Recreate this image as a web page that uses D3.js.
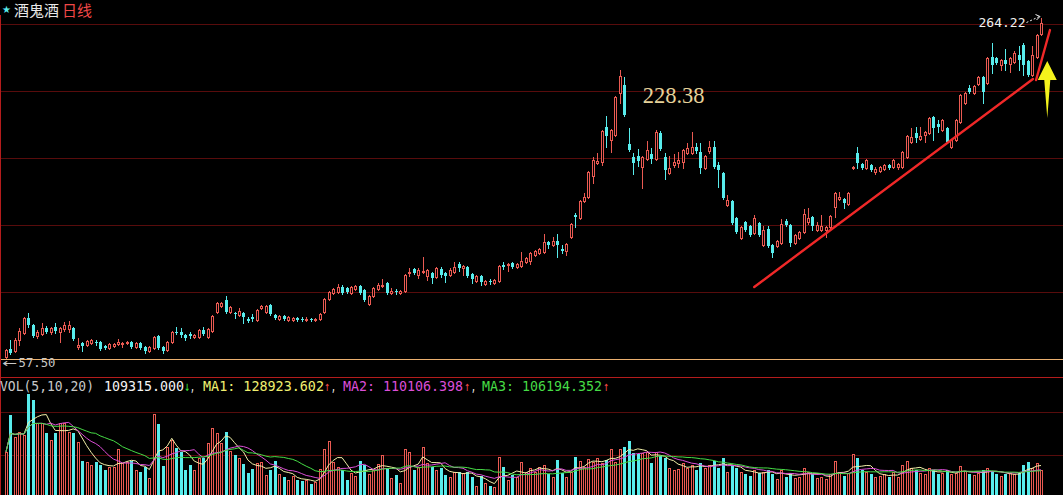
<!DOCTYPE html>
<html><head><meta charset="utf-8">
<script src="https://cdn.jsdelivr.net/npm/d3@7"></script>
<style>html,body{margin:0;padding:0;background:#000;overflow:hidden}</style>
</head><body><svg id="c" width="1063" height="495"></svg>
<script>
// ---------- data (daily candles, index 0..231) ----------
const open = [
58.1,63.0,61.8,68.4,72.7,81.8,77.6,70.9,72.1,75.7,
73.3,76.3,73.3,75.1,75.1,75.7,64.2,66.6,65.4,66.6,
67.2,67.2,64.8,63.6,64.8,66.0,66.0,66.6,67.2,64.2,
66.6,64.2,61.8,63.6,70.9,64.2,62.4,67.2,73.3,73.3,
71.5,72.1,70.3,70.3,74.5,70.3,73.9,85.5,89.1,92.8,
85.5,84.9,83.6,84.9,81.2,82.4,80.6,87.9,85.5,89.7,
83.6,81.2,83.0,80.6,80.6,81.8,81.2,80.6,81.2,80.6,
81.2,85.5,93.4,97.0,97.6,100.7,100.1,97.0,99.4,101.3,
98.8,90.3,95.2,99.4,101.3,103.1,97.0,98.2,97.0,98.2,
109.2,111.6,108.0,109.8,107.4,109.2,106.7,111.6,109.2,108.0,
109.8,114.6,112.2,112.8,108.6,104.3,107.4,102.5,104.3,103.1,
104.3,114.0,114.0,115.3,112.8,113.4,115.9,116.5,120.1,121.3,
121.9,128.0,126.2,128.6,123.8,122.6,131.1,144.4,142.6,153.0,
155.4,168.2,176.1,176.7,197.9,190.0,193.1,218.6,223.5,187.6,
179.7,180.3,173.6,178.5,181.5,178.5,194.3,179.7,170.0,174.8,
176.1,176.7,182.1,182.1,185.8,182.7,173.0,183.4,185.8,174.8,
170.0,150.5,153.0,142.6,130.5,140.2,137.8,133.5,139.6,126.2,
135.9,126.2,125.6,127.4,140.8,138.4,127.4,130.5,134.1,140.2,
143.2,135.3,135.3,135.3,137.1,149.3,154.2,154.2,151.1,173.0,
182.1,175.5,173.0,174.8,170.6,171.2,172.4,174.8,173.6,173.6,
173.6,179.7,188.8,194.3,190.6,193.1,194.3,204.0,199.8,196.1,
197.3,185.8,190.0,201.0,212.5,221.7,218.6,224.1,228.3,224.7,
240.5,239.9,235.6,238.7,236.3,237.5,241.7,247.8,238.1,229.6,
240.5,254.5];
const high = [
62.8,68.4,69.7,75.7,82.4,84.9,78.2,74.5,78.8,76.9,
76.3,78.8,76.3,79.4,80.0,76.3,69.7,67.2,68.4,69.0,
68.4,67.8,65.4,66.6,66.6,69.0,67.2,67.8,67.8,67.2,
67.2,64.8,64.8,70.9,71.5,64.8,67.8,73.9,76.3,75.7,
72.1,73.3,72.1,75.1,76.3,75.7,83.6,91.5,91.5,95.2,
89.1,85.5,87.9,85.5,82.4,84.2,87.3,89.7,89.7,90.3,
84.2,83.6,83.6,83.0,82.4,82.4,82.4,82.4,81.8,81.8,
84.9,94.0,98.2,100.1,102.5,101.9,100.7,101.3,101.9,101.9,
99.4,95.8,100.7,103.1,105.5,103.7,100.1,99.4,98.8,108.6,
112.2,112.2,112.2,118.9,111.6,109.8,112.8,112.8,109.8,112.2,
115.9,115.9,114.0,113.4,109.2,108.0,108.0,104.9,105.5,105.5,
114.0,115.9,115.3,115.9,115.3,121.9,118.9,121.9,123.2,124.4,
132.9,128.6,131.1,132.9,126.2,127.4,139.6,145.7,153.6,157.8,
171.2,179.7,182.1,196.1,204.6,196.7,216.8,232.6,228.3,197.3,
182.1,184.6,180.3,189.4,185.2,196.1,195.5,182.1,180.3,181.5,
182.7,184.6,188.2,194.9,188.2,188.2,180.9,189.4,189.4,176.7,
170.6,156.6,153.6,143.2,137.8,140.8,138.4,144.4,140.2,137.8,
137.8,126.8,129.2,142.0,142.0,139.0,132.9,134.7,148.1,148.7,
143.8,140.2,144.4,137.8,144.4,158.4,158.4,154.8,158.4,174.2,
185.8,176.1,178.5,175.5,173.6,174.2,175.5,175.5,178.5,176.1,
183.4,193.1,197.3,197.9,197.9,195.5,204.0,204.6,202.2,202.8,
197.9,190.6,202.8,218.0,219.2,223.5,223.5,228.9,228.9,240.5,
249.0,240.5,239.3,245.4,240.5,244.1,247.2,249.0,238.7,247.2,
254.5,264.22];
const low = [
57.5,59.9,61.1,65.4,72.1,76.3,70.3,69.7,71.5,72.7,
72.1,72.7,67.2,73.9,73.3,68.4,63.0,61.8,64.8,66.0,
65.4,62.4,63.0,63.0,64.2,65.4,64.2,66.0,63.6,63.6,
63.0,60.5,61.1,63.0,63.0,60.5,61.8,66.6,72.1,70.3,
68.4,69.7,69.7,69.7,71.5,69.7,73.3,84.9,88.5,84.9,
84.9,81.8,83.0,78.8,79.4,80.0,80.0,87.3,84.9,83.6,
81.2,80.6,80.6,80.0,80.0,80.0,80.0,80.0,80.0,80.0,
80.6,84.9,92.8,96.4,97.0,96.4,97.0,96.4,98.8,96.4,
92.2,89.7,94.6,98.8,100.7,96.4,96.4,96.4,96.4,97.6,
107.4,108.6,106.1,109.2,104.9,103.1,106.1,106.7,103.7,107.4,
109.2,110.4,108.0,106.7,103.1,103.7,101.9,101.9,102.5,102.5,
103.7,111.6,110.4,112.2,112.2,112.8,115.3,114.6,119.5,120.7,
121.3,124.4,125.6,118.9,121.3,120.1,130.5,137.1,142.0,152.4,
154.8,163.9,175.5,174.8,185.8,182.7,192.5,212.5,204.6,183.4,
169.4,174.2,160.9,177.9,176.1,177.9,184.0,166.3,169.4,173.6,
173.6,173.0,181.5,181.5,182.1,170.0,172.4,182.1,173.0,161.5,
154.2,149.9,139.0,133.5,129.9,134.7,131.7,132.9,131.7,125.6,
125.0,118.9,125.0,126.8,137.8,125.6,126.8,129.9,133.5,139.0,
135.3,134.7,134.7,131.1,136.5,143.2,153.6,148.7,150.5,172.4,
173.0,172.4,172.4,171.2,169.4,170.6,171.8,172.4,173.0,172.4,
173.0,179.1,188.2,188.8,190.0,188.8,193.7,190.0,194.9,195.5,
188.2,185.2,189.4,200.4,211.9,218.6,218.0,223.5,212.5,224.1,
230.8,236.3,232.6,232.6,231.4,236.9,232.6,229.6,229.0,229.0,
239.9,253.9];
const close = [
62.4,60.5,68.4,73.9,81.8,77.6,70.9,73.3,75.7,73.3,
75.7,73.9,75.7,77.6,77.6,69.0,65.4,64.8,67.8,68.4,
66.6,63.0,63.6,66.0,66.0,67.2,66.6,67.2,64.2,66.6,
63.6,61.8,64.2,70.3,63.6,61.8,67.2,73.3,72.7,71.5,
69.7,70.9,71.5,74.5,72.1,75.1,83.0,90.9,90.9,85.5,
88.5,84.2,86.1,82.4,80.0,81.2,86.7,89.1,89.1,84.2,
81.8,83.0,81.2,82.4,81.8,80.6,80.6,81.2,80.6,81.2,
84.2,93.4,97.6,99.4,100.7,97.0,97.6,100.7,101.3,97.0,
92.8,95.2,100.1,101.9,101.9,97.0,98.2,97.6,98.2,108.0,
109.8,109.2,111.0,110.4,111.0,106.1,112.2,108.0,107.4,111.0,
112.8,112.2,113.4,107.4,105.5,107.4,103.7,104.3,103.7,104.9,
113.4,112.8,114.6,112.8,114.6,116.5,118.3,121.3,122.6,123.8,
128.0,126.2,128.6,126.2,122.6,126.8,139.0,143.2,153.0,155.4,
170.6,177.9,177.3,195.5,192.5,196.1,216.2,229.0,205.2,184.0,
176.1,177.3,179.7,184.0,178.5,194.9,184.6,171.8,173.0,176.7,
177.9,184.0,185.2,185.8,183.4,173.0,180.3,185.8,173.6,171.8,
154.8,153.6,139.6,134.1,137.1,135.3,132.3,142.6,132.3,135.3,
125.6,121.3,128.6,139.0,138.4,127.4,132.3,134.1,145.1,142.6,
137.8,138.4,137.8,137.1,143.8,157.8,155.4,151.7,157.8,173.6,
176.1,173.0,177.9,171.8,172.4,173.6,174.8,173.0,177.9,175.5,
182.7,192.5,191.9,191.3,192.5,194.9,203.4,197.3,197.9,202.2,
188.8,190.0,202.2,217.4,218.6,219.2,222.9,228.3,219.2,239.9,
235.6,236.9,238.7,236.3,239.9,242.9,238.7,235.6,229.6,241.7,
253.9,261.2];
const volume = [
189000,350000,255000,277000,260000,441000,415000,316000,316000,269000,
240000,269000,313000,313000,277000,272000,233000,150000,146000,131000,
146000,131000,109000,124000,124000,200000,138000,146000,150000,109000,
102000,121000,73000,354000,310000,127000,208000,240000,204000,189000,
109000,131000,109000,160000,160000,226000,291000,272000,226000,277000,
194000,175000,160000,135000,98000,112000,140000,146000,87000,109000,
148000,92000,77000,66000,83000,66000,61000,66000,48000,58000,
112000,200000,236000,146000,124000,109000,66000,98000,83000,148000,
131000,92000,109000,135000,175000,117000,73000,87000,54000,201000,
186000,109000,124000,211000,141000,124000,109000,117000,87000,80000,
102000,102000,95000,102000,77000,39000,83000,54000,39000,34000,
167000,124000,66000,87000,80000,146000,102000,117000,102000,124000,
131000,92000,80000,153000,95000,80000,102000,167000,148000,124000,
156000,146000,163000,138000,153000,200000,146000,200000,211000,236000,
182000,179000,182000,189000,138000,190000,170000,160000,120000,110000,
115000,140000,120000,130000,110000,140000,120000,130000,150000,120000,
160000,100000,130000,120000,100000,90000,85000,110000,95000,100000,
110000,90000,70000,110000,80000,95000,75000,80000,120000,100000,
90000,75000,80000,70000,90000,150000,100000,85000,95000,180000,
160000,110000,100000,90000,80000,85000,90000,80000,100000,80000,
130000,150000,120000,110000,95000,90000,120000,110000,90000,95000,
110000,90000,95000,125000,105000,90000,88000,98000,108000,118000,
105000,91000,85000,90000,95000,92000,95000,130000,145000,120000,
140000,109315];
const maPeriods = [5, 10, 20];
const titleName = "酒鬼酒", titlePeriod = "日线";
const legendLabels = ["VOL(5,10,20)", "109315.000", "MA1: 128923.602", "MA2: 110106.398", "MA3: 106194.352"];
const peakLabel = "228.38", highLabel = "264.22", lowLabel = "57.50";
// annotations in data units: [candle index, price]
const trendLines = [[[167.0, 100.7], [229.2, 227.1]], [[229.9, 226.5], [233.0, 256.9]]];
const arrowSpec = {index: 232.4, tip: 238.1, base: 226.5, tail: 203.4};
const peakLabelAt = [142.1, 212.5];

// ---------- drawing ----------
const W = 1063, H = 495;
const svg = d3.select("#c");
svg.append("rect").attr("width", W).attr("height", H).attr("fill", "#000");
const n = close.length;
const idx = d3.range(n);
const x = d3.scaleLinear().domain([0, n - 1]).range([6, 1041]);
const y = d3.scaleLinear().domain([57.5, 264.22]).range([358, 18]);
const yv = d3.scaleLinear().domain([0, 450000]).range([495, 392]);
const px = i => Math.round(x(i)) + 0.5;
const RED = "#ea5a52", CYAN = "#58ecec";
const up = i => close[i] >= open[i];

// grids & separators
const priceGrid = d3.range(5).map(k => 24 + 67 * k);
svg.selectAll(".pg").data(priceGrid).join("line")
  .attr("x1", 0).attr("x2", W).attr("y1", d => d + 0.5).attr("y2", d => d + 0.5)
  .attr("stroke", "#580c0c");
svg.selectAll(".vg").data([412, 455]).join("line")
  .attr("x1", 0).attr("x2", W).attr("y1", d => d + 0.5).attr("y2", d => d + 0.5)
  .attr("stroke", "#580c0c");
svg.append("line").attr("x1", 0).attr("x2", W).attr("y1", 359.5).attr("y2", 359.5).attr("stroke", "#eab070");
svg.append("line").attr("x1", 0).attr("x2", W).attr("y1", 377.5).attr("y2", 377.5).attr("stroke", "#b41c1c");
svg.append("line").attr("x1", 0.5).attr("x2", 0.5).attr("y1", 15).attr("y2", H).attr("stroke", "#b41c1c");

// candles
const cg = svg.append("g");
cg.selectAll("line").data(idx).join("line")
  .attr("x1", px).attr("x2", px)
  .attr("y1", i => Math.round(y(high[i]))).attr("y2", i => Math.round(y(low[i])) + 1)
  .attr("stroke", i => up(i) ? RED : CYAN);
cg.selectAll("rect").data(idx).join("rect")
  .each(function(i) {
    const t = Math.round(y(Math.max(open[i], close[i])));
    const b = Math.round(y(Math.min(open[i], close[i])));
    const s = d3.select(this);
    if (up(i)) {
      s.attr("x", px(i) - 1).attr("width", 2).attr("y", t + 0.5).attr("height", Math.max(b - t, 0))
       .attr("fill", "#000").attr("stroke", RED).attr("stroke-width", 1);
    } else {
      s.attr("x", px(i) - 1.5).attr("width", 3).attr("y", t).attr("height", Math.max(b - t, 1))
       .attr("fill", CYAN);
    }
  });

// volume bars
const vg = svg.append("g");
vg.selectAll("rect").data(idx).join("rect")
  .each(function(i) {
    const t = Math.round(yv(volume[i]));
    const s = d3.select(this);
    if (up(i)) {
      s.attr("x", px(i) - 1).attr("width", 2).attr("y", t + 0.5).attr("height", H - t + 2)
       .attr("fill", "#000").attr("stroke", RED);
    } else {
      s.attr("x", px(i) - 1.5).attr("width", 3).attr("y", t).attr("height", H - t)
       .attr("fill", CYAN);
    }
  });

// volume moving averages
const maColors = ["#f2f0a8", "#dc4ed8", "#46dc46"];
maPeriods.forEach((p, k) => {
  const vals = idx.map(i => d3.mean(volume.slice(Math.max(0, i - p + 1), i + 1)));
  svg.append("path").datum(vals)
    .attr("d", d3.line().x((d, i) => x(i)).y(d => yv(d)))
    .attr("fill", "none").attr("stroke", maColors[k]).attr("stroke-width", 1);
});

// trend lines
svg.selectAll(".tl").data(trendLines).join("line")
  .attr("x1", d => x(d[0][0])).attr("y1", d => y(d[0][1]))
  .attr("x2", d => x(d[1][0])).attr("y2", d => y(d[1][1]))
  .attr("stroke", "#f02828").attr("stroke-width", 2.4).attr("stroke-linecap", "round");

// yellow arrow
{
  const ax = x(arrowSpec.index), ty = y(arrowSpec.tip), by = y(arrowSpec.base), ly = y(arrowSpec.tail);
  svg.append("path")
    .attr("d", `M${ax},${ty} L${ax + 9.5},${by} L${ax + 3},${by} L${ax},${ly} L${ax - 3},${by} L${ax - 9.5},${by} Z`)
    .attr("fill", "#f4f21c");
}

// labels
svg.append("text").attr("x", x(peakLabelAt[0])).attr("y", y(peakLabelAt[1]))
  .attr("font-family", "'Liberation Serif', serif").attr("font-size", 22.5)
  .attr("fill", "#e6d29a").text(peakLabel);

const hx = px(n - 1), hy = y(high[n - 1]);
svg.append("text").attr("x", hx - 16).attr("y", hy + 9).attr("text-anchor", "end")
  .attr("font-family", "'DejaVu Sans Mono', monospace").attr("font-size", 13)
  .attr("textLength", 47).attr("lengthAdjust", "spacingAndGlyphs")
  .attr("fill", "#f2f2f2").text(highLabel);
svg.append("path").attr("d", `M${hx - 15},${hy + 4.5} L${hx - 2},${hy - 1.5}`)
  .attr("stroke", "#f2f2f2").attr("stroke-dasharray", "2,2").attr("fill", "none");
svg.append("path").attr("d", `M${hx - 6},${hy - 3.5} L${hx - 1.5},${hy - 1.5} L${hx - 5},${hy + 2}`)
  .attr("stroke", "#f2f2f2").attr("fill", "none");

const lx = px(0), ly0 = y(low[0]);
svg.append("text").attr("x", lx - 4).attr("y", ly0 + 9)
  .attr("font-family", "'DejaVu Sans', sans-serif").attr("font-size", 12)
  .attr("textLength", 15).attr("lengthAdjust", "spacingAndGlyphs")
  .attr("fill", "#c8c8c8").text("←");
svg.append("text").attr("x", lx + 12).attr("y", ly0 + 9)
  .attr("font-family", "'DejaVu Sans Mono', monospace").attr("font-size", 12)
  .attr("textLength", 37).attr("lengthAdjust", "spacingAndGlyphs")
  .attr("fill", "#c8c8c8").text(lowLabel);

// title
svg.append("text").attr("x", 2).attr("y", 13).attr("font-size", 10)
  .attr("font-family", "'DejaVu Sans', sans-serif").attr("fill", "#58ecec").text("★");
svg.append("text").attr("x", 14).attr("y", 15.5).attr("font-size", 15)
  .attr("font-family", "'Noto Sans CJK SC', sans-serif").attr("fill", "#e8e8e8").text(titleName);
svg.append("text").attr("x", 62).attr("y", 15.5).attr("font-size", 15)
  .attr("font-family", "'Noto Sans CJK SC', sans-serif").attr("fill", "#f04848").text(titlePeriod);

// volume legend
const legend = [
  {t: legendLabels[0], x: 0, w: 94, c: "#c8c8c8"},
  {t: legendLabels[1], x: 104, w: 80, c: "#f4f4f4"},
  {t: "↓", x: 184, w: 6, c: "#3ce03c"},
  {t: ",", x: 190, w: 5, c: "#f4f4f4"},
  {t: legendLabels[2], x: 203, w: 121, c: "#f0f070"},
  {t: "↑", x: 324, w: 6, c: "#f04848"},
  {t: ",", x: 331, w: 5, c: "#f4f4f4"},
  {t: legendLabels[3], x: 343, w: 120, c: "#dc4ed8"},
  {t: "↑", x: 464, w: 6, c: "#f04848"},
  {t: ",", x: 471, w: 5, c: "#f4f4f4"},
  {t: legendLabels[4], x: 482, w: 120, c: "#46dc46"},
  {t: "↑", x: 603, w: 6, c: "#f04848"}
];
svg.selectAll(".lg").data(legend).join("text")
  .attr("x", d => d.x).attr("y", 391)
  .attr("font-family", "'DejaVu Sans Mono', monospace").attr("font-size", 13.5)
  .attr("textLength", d => d.w).attr("lengthAdjust", "spacingAndGlyphs")
  .attr("fill", d => d.c).text(d => d.t);
</script>
</body></html>
